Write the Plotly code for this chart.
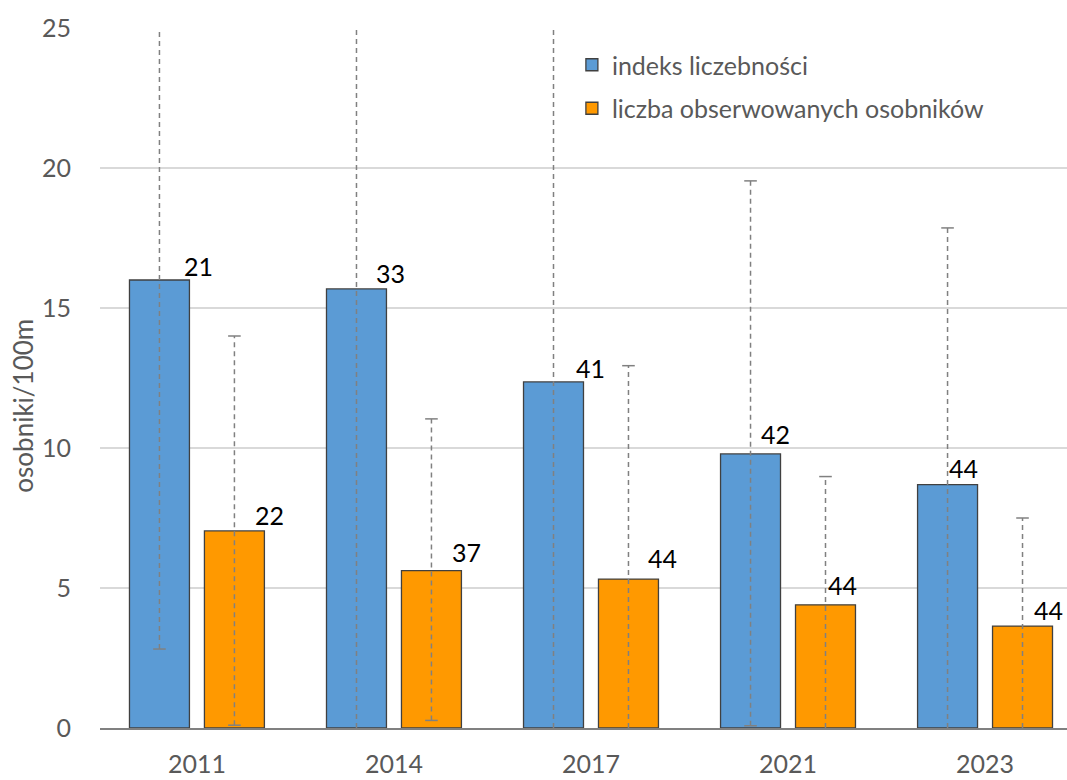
import plotly.graph_objects as go

years = ["2011", "2014", "2017", "2021", "2023"]
index_vals = [16.0, 15.68, 12.36, 9.79, 8.69]
count_vals = [7.04, 5.62, 5.32, 4.40, 3.64]
index_n = ["21", "33", "41", "42", "44"]
count_n = ["22", "37", "44", "44", "44"]
index_low = [2.82, 0.0, 0.0, 0.08, 0.0]
index_high = [27.5, 26.5, 28.0, 19.54, 17.86]
count_low = [0.1, 0.27, 0.0, 0.0, 0.0]
count_high = [14.0, 11.04, 12.94, 8.98, 7.5]

names = ["indeks liczebności", "liczba obserwowanych osobników"]
colors = ["#5B9BD5", "#FF9900"]

# label pixel offsets (styling only)
lab_dx = [[2, -3, 0, -13, -22], [73, 73, 72, 54, 63]]
lab_dy = [[14, 16, 14, 20, 17], [16, 19, 21, 20, 16]]

FONT = "Lato"
GAP = 0.239
fig = go.Figure()

series = [(index_vals, index_low, index_high, index_n),
          (count_vals, count_low, count_high, count_n)]

for i, (vals, lo, hi, ns) in enumerate(series):
    fig.add_trace(go.Bar(
        x=years, y=vals, name=names[i], offsetgroup=str(i), legendgroup=str(i),
        marker=dict(color=colors[i], line=dict(color="#404040", width=1.3)),
    ))

for i, (vals, lo, hi, ns) in enumerate(series):
    ex, ey = [], []
    for c, l, h in zip(years, lo, hi):
        ex += [c, c, None]
        ey += [l, h, None]
    fig.add_trace(go.Scatter(
        x=ex, y=ey, mode="lines", offsetgroup=str(i), showlegend=False,
        line=dict(color="#808080", width=1.5, dash="5px,4px"), hoverinfo="skip",
    ))
    cx, cy = [], []
    for c, l, h in zip(years, lo, hi):
        if l > 0:
            cx.append(c); cy.append(l)
        cx.append(c); cy.append(h)
    fig.add_trace(go.Scatter(
        x=cx, y=cy, mode="markers", offsetgroup=str(i), showlegend=False,
        marker=dict(symbol="line-ew", size=9, line=dict(color="#808080", width=1.5)),
        hoverinfo="skip",
    ))

for i, (vals, lo, hi, ns) in enumerate(series):
    for j, (v, t) in enumerate(zip(vals, ns)):
        fig.add_annotation(x=j, y=v, xref="x", yref="y", text=t, showarrow=False,
                           xanchor="center", yanchor="middle",
                           xshift=lab_dx[i][j], yshift=lab_dy[i][j],
                           font=dict(family=FONT, size=25, color="#000000"))

fig.add_annotation(x=-0.08, y=0.46, xref="paper", yref="paper", text="osobniki/100m",
                   textangle=-90, showarrow=False, xanchor="center", yanchor="middle",
                   font=dict(family=FONT, size=26, color="#595959"))

fig.update_layout(
    width=1067, height=780,
    margin=dict(l=100, r=0, t=28, b=52),
    paper_bgcolor="white", plot_bgcolor="white",
    barmode="group", bargap=GAP, bargroupgap=0.2,
    scattermode="group", scattergap=GAP,
    font=dict(family=FONT, color="#595959"),
    legend=dict(x=0.488, y=0.98, xanchor="left", yanchor="top",
                font=dict(family=FONT, size=25, color="#595959"),
                tracegroupgap=8, traceorder="grouped", bgcolor="rgba(0,0,0,0)"),
    xaxis=dict(type="category", range=[-0.492, 4.416], showgrid=False,
               showline=True, linecolor="#808080", linewidth=1.5,
               tickfont=dict(family=FONT, size=25, color="#595959"),
               ticks="", ticklabelstandoff=13),
    yaxis=dict(range=[0, 25], tickvals=[0, 5, 10, 15, 20, 25],
               showgrid=True, gridcolor="#D9D9D9", gridwidth=1.5,
               zeroline=False, showline=False,
               tickfont=dict(family=FONT, size=25, color="#595959"),
               ticks="", ticklabelstandoff=28),
)

fig.write_html("out.html", config={"displayModeBar": False},
               post_script="document.body.style.margin='0';document.body.style.overflow='hidden';")
